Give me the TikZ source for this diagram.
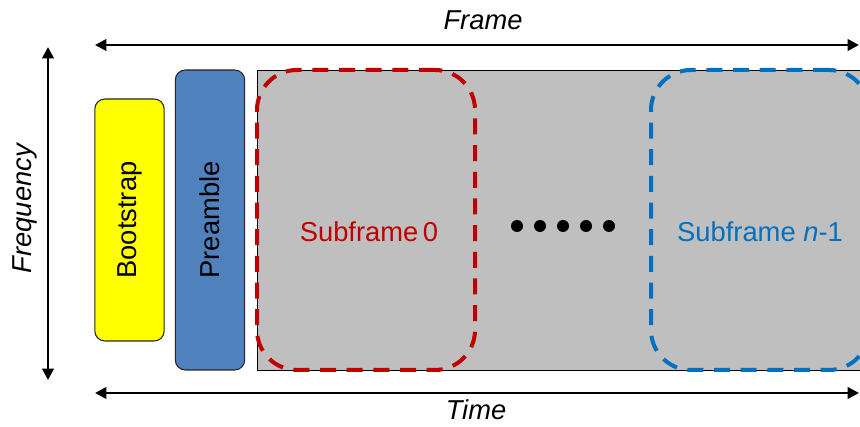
\documentclass[tikz,border=0pt]{standalone}
\usepackage{fontspec}
\setmainfont{Liberation Sans}
\usetikzlibrary{arrows.meta}
\definecolor{bootyellow}{HTML}{FFFF00}
\definecolor{preblue}{HTML}{4F81BD}
\definecolor{framegray}{HTML}{BFBFBF}
\definecolor{subred}{HTML}{C00000}
\definecolor{subblue}{HTML}{0070C0}

\begin{document}
\begin{tikzpicture}[x=0.75pt,y=-0.75pt,
    block/.style={draw=black!85, line width=0.8pt, rounded corners=7.5pt, minimum width=52pt, inner sep=0pt},
    subbox/.style={line width=3pt, dash pattern=on 12pt off 8pt, rounded corners=30pt,
        minimum width=163.5pt, minimum height=225pt, inner sep=0pt},
    axis/.style={line width=2pt, {Triangle[length=8.5pt,width=8.5pt]}-{Triangle[length=8.5pt,width=8.5pt]}},
    lbl/.style={font=\fontsize{20.5}{24}\selectfont},
    dot/.style={circle, fill=black, inner sep=0pt, minimum size=9pt}]
    \useasboundingbox (0,0) rectangle (860,427);
    \clip (0,0) rectangle (860,427);
    % frame body and its parts
    \node[draw=black, line width=0.6pt, fill=framegray, minimum width=482.25pt, minimum height=225pt, inner sep=0pt] (body) at (578.5,220) {};
    \node[block, fill=bootyellow, minimum height=181.5pt] (boot) at (129.5,220) {};
    \node[block, fill=preblue, minimum height=225pt] (pre) at (210,220) {};
    \node[lbl, rotate=90] (bootlbl) at (boot.center) {Bootstrap};
    \node[lbl, rotate=90] (prelbl) at (pre.center) {Preamble};
    \node[subbox, draw=subred] (sub0) at (366,220) {};
    \node[subbox, draw=subblue] (subn) at (760,220) {};
    \node[lbl, text=subred, anchor=base] (sub0lbl) at (369,242) {Subframe\,0};
    \node[lbl, text=subblue, anchor=base] (subnlbl) at (760,242) {Subframe \textit{n}-1};
    \foreach \i in {0,...,4}
        \node[dot] (dot\i) at (517+23*\i,226) {};
    % axes
    \coordinate (frameL) at (95,45);
    \coordinate (frameR) at (859,45);
    \coordinate (timeL) at (95,393);
    \coordinate (timeR) at (859,393);
    \coordinate (freqT) at (48,47);
    \coordinate (freqB) at (48,380);
    \draw[axis] (frameL) -- (frameR);
    \draw[axis] (timeL) -- (timeR);
    \draw[axis] (freqT) -- (freqB);
    \node[lbl, anchor=base] (framelbl) at (483,30) {\textit{Frame}};
    \node[lbl, anchor=base] (timelbl) at (476,420) {\textit{Time}};
    \node[lbl, rotate=90] (freqlbl) at (25,208) {\textit{Frequency}};
\end{tikzpicture}
\end{document}
